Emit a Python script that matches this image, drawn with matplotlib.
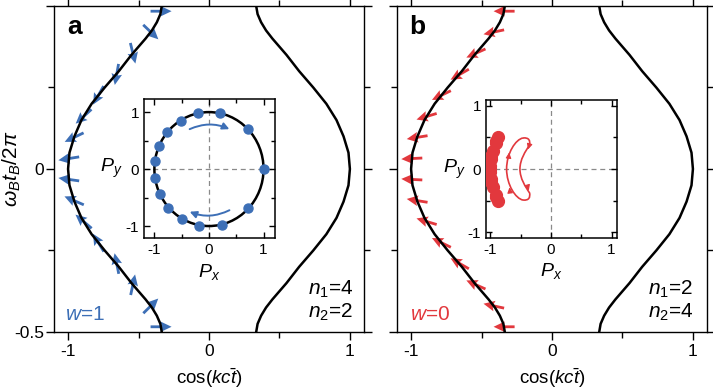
import matplotlib
matplotlib.use('Agg')
import matplotlib.pyplot as plt
from matplotlib.patches import Circle, FancyArrowPatch, PathPatch
from matplotlib.path import Path
from matplotlib.ticker import MultipleLocator

plt.rcParams['font.family'] = ['Liberation Sans', 'DejaVu Sans']
plt.rcParams['mathtext.fontset'] = 'custom'
plt.rcParams['mathtext.rm'] = 'Liberation Sans'
plt.rcParams['mathtext.it'] = 'Liberation Sans:italic'
plt.rcParams['axes.unicode_minus'] = False

BLUE = '#3d6fb6'
RED = '#e2383d'

# band curves
band_y = [-0.5, -0.475, -0.45, -0.425, -0.4, -0.35, -0.3, -0.25, -0.2, -0.15, -0.1, -0.05,
          0.0, 0.05, 0.1, 0.15, 0.2, 0.25, 0.3, 0.35, 0.4, 0.425, 0.45, 0.475, 0.5]
band_right = [0.335, 0.345, 0.37, 0.405, 0.45, 0.55, 0.64, 0.74, 0.833, 0.905, 0.955, 0.99,
              1.0, 0.99, 0.955, 0.905, 0.833, 0.74, 0.64, 0.55, 0.45, 0.405, 0.37, 0.345, 0.335]
band_left = [-0.335, -0.345, -0.37, -0.405, -0.45, -0.55, -0.64, -0.74, -0.833, -0.905, -0.955, -0.99,
             -1.0, -0.99, -0.955, -0.905, -0.833, -0.74, -0.64, -0.55, -0.45, -0.405, -0.37, -0.345, -0.335]

# sampled times (arrows) and their positions on the lower band
arrow_t = [0.484, 0.42, 0.355, 0.29, 0.226, 0.161, 0.097, 0.032,
           -0.032, -0.097, -0.161, -0.226, -0.29, -0.355, -0.42, -0.484]
arrow_x = [-0.34, -0.413, -0.54, -0.655, -0.785, -0.89, -0.957, -0.995,
           -0.995, -0.957, -0.89, -0.785, -0.655, -0.54, -0.413, -0.34]

# pseudospin (Px, Py) for panel a (w=1), one per arrow
pa_x = [1.0, 0.72, 0.24, -0.18, -0.5, -0.75, -0.9, -0.99, -0.99, -0.92, -0.77, -0.52, -0.2, 0.21, 0.71, 1.0]
pa_y = [0.0, -0.69, -0.98, -1.0, -0.88, -0.68, -0.43, -0.16, 0.14, 0.4, 0.65, 0.85, 0.98, 0.98, 0.7, 0.0]

# pseudospin for panel b (w=0)
pb_x = [-1.0, -0.98, -0.91, -0.87, -0.9, -0.96, -0.99, -1.0, -1.0, -0.99, -0.96, -0.9, -0.87, -0.91, -0.98, -1.0]
pb_y = [0.0, -0.21, -0.41, -0.5, -0.44, -0.29, -0.16, -0.05, 0.05, 0.16, 0.29, 0.44, 0.5, 0.41, 0.21, 0.0]

# schematic loop in inset b
loop_x = [-0.46, -0.36, -0.34, -0.35, -0.42, -0.51, -0.51, -0.51, -0.42, -0.35,
          -0.34, -0.36, -0.46, -0.58, -0.73, -0.73, -0.73, -0.58, -0.46]
loop_y = [0.49, 0.5, 0.45, 0.38, 0.28, 0.15, 0.0, -0.15, -0.28, -0.38,
          -0.45, -0.5, -0.49, -0.47, -0.25, 0.0, 0.25, 0.47, 0.49]
loop_heads = [(-0.69, 0.24, 0.12, 1.0), (-0.68, -0.31, -0.12, 1.0),
              (-0.37, 0.33, -0.3, -1.0), (-0.37, -0.32, 0.3, -1.0)]

fig = plt.figure(figsize=(7.13, 3.91), dpi=100)


def main_axes(rect, ylab):
    ax = fig.add_axes(rect)
    ax.set_xlim(-1.1, 1.1)
    ax.set_ylim(-0.5, 0.5)
    ax.set_xticks([-1, 0, 1], ['-1', '0', '1'])
    ax.set_yticks([-0.5, 0, 0.5], ['-0.5', '0', ''] if ylab else ['', '', ''])
    ax.xaxis.set_minor_locator(MultipleLocator(0.5))
    ax.yaxis.set_minor_locator(MultipleLocator(0.25))
    ax.tick_params(which='both', direction='out', top=True, right=True, labelsize=12.5, width=1)
    ax.tick_params(which='major', length=5.5)
    ax.tick_params(which='minor', length=4)
    ax.tick_params(axis='y', pad=1.5)
    for s in ax.spines.values():
        s.set_linewidth(1)
    ax.plot(band_left, band_y, color='k', lw=1.8, zorder=3)
    ax.plot(band_right, band_y, color='k', lw=1.8, zorder=3)
    ax.set_xlabel(r'cos($kc\bar{t}$)', fontsize=13.5)
    ax.xaxis.set_label_coords(0.5, -0.105)
    if ylab:
        ax.set_ylabel(r'$\omega_B t_B$/2$\pi$', fontsize=15, va='center')
        ax.yaxis.set_label_coords(-0.135, 0.5)
    return ax


def inset_axes(rect, xlim, ylim):
    ins = fig.add_axes(rect)
    ins.set_xlim(*xlim)
    ins.set_ylim(*ylim)
    ins.set_xticks([-1, 0, 1], ['-1', '0', '1'])
    ins.set_yticks([-1, 0, 1], ['-1', '0', '1'])
    ins.xaxis.set_minor_locator(MultipleLocator(0.5))
    ins.yaxis.set_minor_locator(MultipleLocator(0.5))
    ins.tick_params(which='both', direction='in', top=True, right=True, labelsize=11, width=1)
    ins.tick_params(which='major', length=4)
    ins.tick_params(which='minor', length=3)
    for s in ins.spines.values():
        s.set_linewidth(1.1)
    ins.axhline(0, color='#8a8a8a', ls=(0, (4, 3)), lw=0.9, zorder=1)
    ins.axvline(0, color='#8a8a8a', ls=(0, (4, 3)), lw=0.9, zorder=1)
    ins.set_xlabel('$P_x$', fontsize=14)
    ins.set_ylabel('$P_y$', fontsize=14, rotation=0, ha='center', va='center')
    return ins


quiv = dict(pivot='middle', angles='uv', scale_units='inches', scale=1 / 0.21,
            units='inches', width=0.028, headwidth=3.8, headlength=4.0, headaxislength=3.5, zorder=2)

# panel a
axa = main_axes([0.0757, 0.1509, 0.4348, 0.8338], True)
axa.quiver(arrow_x, arrow_t, pa_x, pa_y, color=BLUE, **quiv)
axa.text(0.042, 0.914, 'a', transform=axa.transAxes, fontsize=19, fontweight='bold')
axa.text(0.035, 0.037, '$w$=1', transform=axa.transAxes, fontsize=15, color=BLUE)
axa.text(0.965, 0.113, '$n_1$=4', transform=axa.transAxes, fontsize=15, ha='right')
axa.text(0.965, 0.043, '$n_2$=2', transform=axa.transAxes, fontsize=15, ha='right')

ina = inset_axes([0.2020, 0.3913, 0.1837, 0.3555], (-1.19, 1.21), (-1.21, 1.23))
ina.add_patch(Circle((0, 0), 1, fill=False, lw=1.8, color='k', zorder=2))
ina.plot(pa_x[:-1], pa_y[:-1], 'o', color=BLUE, ms=6.5, zorder=3)
ina.add_patch(FancyArrowPatch((-0.40, 0.68), (0.42, 0.68), connectionstyle='arc3,rad=-0.25',
                              arrowstyle='-|>', mutation_scale=10, color=BLUE, lw=1.4, zorder=3))
ina.add_patch(FancyArrowPatch((0.42, -0.70), (-0.40, -0.73), connectionstyle='arc3,rad=-0.25',
                              arrowstyle='-|>', mutation_scale=10, color=BLUE, lw=1.4, zorder=3))
ina.yaxis.set_label_coords(-0.25, 0.5)
ina.xaxis.set_label_coords(0.5, -0.17)

# panel b
axb = main_axes([0.5568, 0.1509, 0.4348, 0.8338], False)
axb.quiver(arrow_x, arrow_t, pb_x, pb_y, color=RED, **quiv)
axb.text(0.038, 0.914, 'b', transform=axb.transAxes, fontsize=19, fontweight='bold')
axb.text(0.042, 0.037, '$w$=0', transform=axb.transAxes, fontsize=15, color=RED)
axb.text(0.955, 0.113, '$n_1$=2', transform=axb.transAxes, fontsize=15, ha='right')
axb.text(0.955, 0.043, '$n_2$=4', transform=axb.transAxes, fontsize=15, ha='right')

inb = inset_axes([0.6816, 0.3913, 0.1837, 0.3529], (-1.07, 1.09), (-1.09, 1.09))
inb.plot(pb_x[:-1], pb_y[:-1], 'o', color=RED, ms=8.5, zorder=3)
codes = [Path.MOVETO] + [Path.CURVE4] * (len(loop_x) - 1)
loop = Path(list(zip(loop_x, loop_y)), codes)
inb.add_patch(PathPatch(loop, fill=False, edgecolor=RED, lw=1.2, zorder=3))
for hx, hy, dx, dy in loop_heads:
    inb.annotate('', xy=(hx + 0.02 * dx, hy + 0.02 * dy), xytext=(hx - 0.02 * dx, hy - 0.02 * dy),
                 arrowprops=dict(arrowstyle='-|>', mutation_scale=8, color=RED, lw=0.8))
inb.yaxis.set_label_coords(-0.24, 0.5)
inb.xaxis.set_label_coords(0.5, -0.17)

fig.savefig('out.png', dpi=100)
